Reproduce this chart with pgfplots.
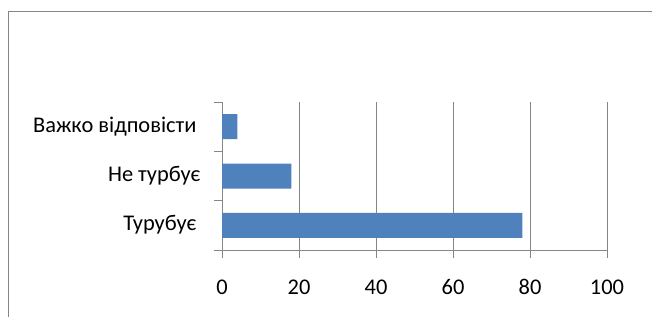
\documentclass[border=0pt]{standalone}
\usepackage{pgfplots}
\pgfplotsset{compat=1.18}
\usepackage{fontspec}
\setmainfont{Carlito}
\definecolor{barblue}{RGB}{79,129,189}
\definecolor{linegray}{RGB}{134,134,134}
\begin{document}
\begin{tikzpicture}[x=1bp,y=1bp]
\useasboundingbox (0,0) rectangle (652,316);
\draw[linegray, line width=1bp] (8,-5) -- (8,304) -- (660,304);
\begin{axis}[
  at={(222bp,66bp)}, anchor=south west,
  scale only axis, width=385bp, height=148bp,
  xbar, bar width=25bp,
  xmin=0, xmax=100, ymin=-0.5, ymax=2.5,
  xtick={0,20,40,60,80,100},
  ytick={-0.5,0.5,1.5,2.5}, yticklabels={},
  extra y ticks={0,1,2},
  extra y tick labels={{Турубує\kern4bp\null},{Не турбує},{Важко відповісти\kern4bp\null}},
  extra y tick style={major tick length=0pt, grid=none},
  axis x line*=bottom, axis y line*=left,
  axis line style={linegray, line width=1bp, -},
  tick style={linegray, line width=1bp},
  tick align=outside, major tick length=8bp,
  xmajorgrids, grid style={linegray, line width=1bp},
  font=\fontsize{22.5}{27}\selectfont,
  typeset ticklabels with strut,
  /pgf/number format/assume math mode=true,
  xticklabel style={yshift=-14bp},
  yticklabel style={xshift=-18bp},
  clip=false,
]
\addplot[fill=barblue, draw=none] coordinates {(78,0) (18,1) (4,2)};
\end{axis}
\end{tikzpicture}
\end{document}
